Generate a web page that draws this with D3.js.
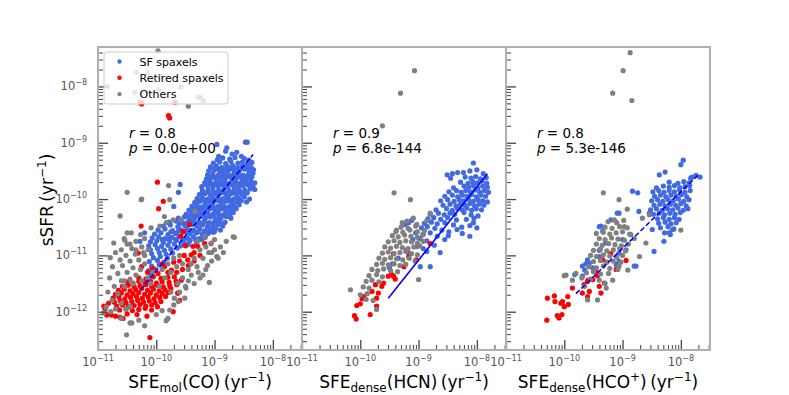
<!DOCTYPE html>
<meta charset="utf-8">
<style>
  body { margin: 0; background: #fff; }
  svg { font-family: "DejaVu Sans", sans-serif; }
  .frame { fill: none; stroke: #b0b0b0; stroke-width: 2; }
  .tick line { stroke: #444; }
  .ticklabel { fill: #555; font-size: 11.5px; }
  .title { fill: #000; font-size: 17px; }
  .stat { fill: #000; font-size: 13.5px; }
  .legend text { font-size: 11px; fill: #000; }
</style>
<svg width="789" height="395"></svg>
<script src="https://d3js.org/d3.v7.min.js"></script>
<script>

// all values are log10 (SFE in yr^-1, sSFR in yr^-1)

// ---- SFE_mol(CO) panel ----
var coSF = [
  [-8.47,-8.99],[-8.44,-8.99],[-8.79,-9.09],[-8.96,-9.03],[-8.93,-9.24],[-8.81,-9.15],[-8.54,-9.24],[-8.62,-9.17],[-8.70,-9.20],
  [-8.95,-9.30],[-8.86,-9.27],[-8.74,-9.29],[-8.65,-9.26],[-8.49,-9.28],[-8.41,-9.31],
  [-9.02,-9.36],[-8.91,-9.34],[-8.81,-9.37],[-8.72,-9.33],[-8.60,-9.36],[-8.52,-9.34],[-8.43,-9.37],[-8.36,-9.35],
  [-9.07,-9.43],[-8.97,-9.41],[-8.88,-9.44],[-8.78,-9.42],[-8.69,-9.40],[-8.61,-9.44],[-8.53,-9.42],[-8.44,-9.40],[-8.37,-9.44],
  [-9.04,-9.45],[-8.95,-9.46],[-8.86,-9.45],[-8.77,-9.46],[-8.68,-9.45],[-8.59,-9.46],[-8.50,-9.45],[-8.41,-9.46],
  [-9.10,-9.50],[-9.00,-9.48],[-8.91,-9.51],[-8.83,-9.49],[-8.74,-9.47],[-8.66,-9.51],[-8.57,-9.49],[-8.48,-9.47],[-8.40,-9.50],[-8.33,-9.48],
  [-9.12,-9.57],[-9.03,-9.55],[-8.94,-9.58],[-8.85,-9.56],[-8.77,-9.54],[-8.68,-9.57],[-8.59,-9.55],[-8.51,-9.58],[-8.42,-9.56],[-8.34,-9.54],
  [-9.10,-9.60],[-9.01,-9.61],[-8.92,-9.60],[-8.83,-9.61],[-8.74,-9.60],[-8.65,-9.61],[-8.56,-9.60],[-8.47,-9.61],[-8.38,-9.60],
  [-9.14,-9.64],[-9.05,-9.62],[-8.97,-9.65],[-8.88,-9.63],[-8.79,-9.61],[-8.70,-9.64],[-8.62,-9.62],[-8.53,-9.65],[-8.45,-9.63],[-8.36,-9.61],
  [-9.17,-9.71],[-9.08,-9.69],[-8.99,-9.72],[-8.90,-9.70],[-8.82,-9.68],[-8.73,-9.71],[-8.64,-9.69],[-8.56,-9.72],[-8.47,-9.70],[-8.38,-9.68],[-8.31,-9.71],
  [-9.15,-9.74],[-9.06,-9.73],[-8.97,-9.74],[-8.88,-9.73],[-8.79,-9.74],[-8.70,-9.73],[-8.61,-9.74],[-8.52,-9.73],[-8.43,-9.74],[-8.36,-9.73],
  [-9.22,-9.78],[-9.12,-9.76],[-9.03,-9.79],[-8.94,-9.77],[-8.86,-9.75],[-8.77,-9.78],[-8.68,-9.76],[-8.59,-9.79],[-8.51,-9.77],[-8.42,-9.75],[-8.34,-9.78],
  [-9.21,-9.85],[-9.11,-9.83],[-9.02,-9.86],[-8.93,-9.84],[-8.84,-9.82],[-8.75,-9.85],[-8.66,-9.83],[-8.57,-9.86],[-8.48,-9.84],[-8.39,-9.82],
  [-9.20,-9.88],[-9.11,-9.87],[-9.02,-9.88],[-8.93,-9.87],[-8.84,-9.88],[-8.75,-9.87],[-8.66,-9.88],[-8.57,-9.87],[-8.48,-9.88],
  [-9.26,-9.92],[-9.16,-9.90],[-9.07,-9.93],[-8.98,-9.91],[-8.89,-9.89],[-8.80,-9.92],[-8.71,-9.90],[-8.62,-9.93],[-8.53,-9.91],[-8.44,-9.89],
  [-9.30,-9.99],[-9.21,-9.97],[-9.12,-10.00],[-9.03,-9.98],[-8.94,-9.96],[-8.85,-9.99],[-8.76,-9.97],[-8.67,-10.00],[-8.58,-9.98],[-8.49,-9.96],
  [-9.28,-10.02],[-9.19,-10.01],[-9.10,-10.02],[-9.01,-10.01],[-8.92,-10.02],[-8.83,-10.01],[-8.74,-10.02],[-8.65,-10.01],[-8.56,-10.02],
  [-9.34,-10.06],[-9.25,-10.04],[-9.16,-10.07],[-9.07,-10.05],[-8.98,-10.03],[-8.89,-10.06],[-8.80,-10.04],[-8.71,-10.07],[-8.62,-10.05],[-8.54,-10.03],
  [-9.39,-10.13],[-9.30,-10.11],[-9.21,-10.14],[-9.12,-10.12],[-9.03,-10.10],[-8.94,-10.13],[-8.85,-10.11],[-8.76,-10.14],[-8.67,-10.12],[-8.58,-10.10],
  [-9.37,-10.16],[-9.28,-10.15],[-9.19,-10.16],[-9.10,-10.15],[-9.01,-10.16],[-8.92,-10.15],[-8.83,-10.16],[-8.74,-10.15],[-8.65,-10.16],
  [-9.44,-10.20],[-9.35,-10.18],[-9.26,-10.21],[-9.17,-10.19],[-9.08,-10.17],[-8.99,-10.20],[-8.90,-10.18],[-8.81,-10.21],[-8.72,-10.19],[-8.63,-10.17],
  [-9.49,-10.27],[-9.39,-10.25],[-9.30,-10.28],[-9.21,-10.26],[-9.12,-10.24],[-9.03,-10.27],[-8.94,-10.25],[-8.85,-10.28],[-8.76,-10.26],[-8.68,-10.24],
  [-9.46,-10.30],[-9.37,-10.29],[-9.28,-10.30],[-9.19,-10.29],[-9.10,-10.30],[-9.01,-10.29],[-8.92,-10.30],[-8.83,-10.29],[-8.74,-10.30],
  [-9.62,-10.34],[-9.52,-10.32],[-9.43,-10.35],[-9.34,-10.33],[-9.25,-10.31],[-9.16,-10.34],[-9.07,-10.32],[-8.98,-10.35],[-8.89,-10.33],[-8.80,-10.31],[-8.72,-10.34],
  [-9.78,-10.41],[-9.66,-10.39],[-9.55,-10.42],[-9.45,-10.40],[-9.36,-10.38],[-9.27,-10.41],[-9.18,-10.39],[-9.09,-10.42],[-9.00,-10.40],[-8.91,-10.38],[-8.82,-10.41],
  [-9.60,-10.44],[-9.48,-10.43],[-9.38,-10.44],[-9.29,-10.43],[-9.20,-10.44],[-9.11,-10.43],[-9.02,-10.44],[-8.93,-10.43],[-8.85,-10.44],
  [-9.88,-10.48],[-9.76,-10.46],[-9.63,-10.49],[-9.51,-10.47],[-9.40,-10.45],[-9.30,-10.48],[-9.21,-10.46],[-9.12,-10.49],[-9.03,-10.47],[-8.94,-10.45],[-8.86,-10.48],
  [-9.97,-10.55],[-9.85,-10.53],[-9.72,-10.56],[-9.59,-10.54],[-9.47,-10.52],[-9.36,-10.55],[-9.26,-10.53],[-9.16,-10.56],[-9.07,-10.54],[-8.98,-10.52],[-8.90,-10.55],
  [-9.75,-10.58],[-9.62,-10.57],[-9.49,-10.58],[-9.38,-10.57],[-9.28,-10.58],[-9.18,-10.57],[-9.09,-10.58],[-9.00,-10.57],
  [-10.03,-10.62],[-9.92,-10.60],[-9.80,-10.63],[-9.67,-10.61],[-9.54,-10.59],[-9.42,-10.62],[-9.31,-10.60],[-9.21,-10.63],[-9.11,-10.61],[-9.02,-10.59],
  [-10.07,-10.69],[-9.96,-10.67],[-9.85,-10.70],[-9.73,-10.68],[-9.61,-10.66],[-9.48,-10.69],[-9.36,-10.67],[-9.26,-10.70],[-9.16,-10.68],
  [-9.90,-10.72],[-9.79,-10.71],[-9.67,-10.72],[-9.55,-10.71],[-9.44,-10.72],[-9.33,-10.71],[-9.22,-10.72],
  [-10.10,-10.76],[-9.99,-10.74],[-9.88,-10.77],[-9.77,-10.75],[-9.65,-10.73],[-9.53,-10.76],[-9.42,-10.74],[-9.31,-10.77],
  [-10.13,-10.83],[-10.02,-10.81],[-9.91,-10.84],[-9.80,-10.82],[-9.69,-10.80],[-9.58,-10.83],[-9.47,-10.81],
  [-10.10,-10.90],[-9.98,-10.88],[-9.86,-10.91],[-9.75,-10.89],[-9.64,-10.87],
  [-10.08,-10.97],[-9.95,-10.95],[-9.83,-10.98],[-9.72,-10.96],
  [-10.05,-11.04],[-9.93,-11.02],[-9.81,-11.05],
  [-10.12,-11.11],[-9.98,-11.09],[-9.87,-11.12],
  [-10.08,-11.19],[-9.95,-11.17],[-10.13,-11.27],[-10.02,-11.25],[-10.09,-11.35],[-10.16,-11.43],[-10.00,-11.52],
  [-9.59,-9.74],[-9.62,-9.88],[-8.31,-9.83],[-8.40,-10.00],[-8.45,-10.05],[-9.70,-10.13],[-9.45,-10.80],[-10.20,-10.60],[-10.28,-10.75]
];
var coRet = [
  [-10.30,-11.40],[-10.18,-11.42],[-10.05,-11.38],[-9.92,-11.41],[-9.80,-11.39],
  [-10.50,-11.47],[-10.40,-11.49],[-10.30,-11.46],[-10.20,-11.48],[-10.10,-11.46],[-10.00,-11.49],[-9.90,-11.47],[-9.78,-11.48],[-9.66,-11.46],
  [-10.58,-11.55],[-10.48,-11.53],[-10.38,-11.56],[-10.28,-11.54],[-10.18,-11.52],[-10.08,-11.55],[-9.98,-11.53],[-9.88,-11.56],[-9.77,-11.54],[-9.65,-11.52],
  [-10.65,-11.62],[-10.55,-11.60],[-10.45,-11.63],[-10.35,-11.61],[-10.25,-11.59],[-10.15,-11.62],[-10.05,-11.60],[-9.95,-11.63],[-9.85,-11.61],[-9.75,-11.59],
  [-10.70,-11.69],[-10.60,-11.67],[-10.50,-11.70],[-10.40,-11.68],[-10.30,-11.66],[-10.20,-11.69],[-10.10,-11.67],[-10.00,-11.70],[-9.90,-11.68],[-9.80,-11.66],[-9.63,-11.67],
  [-10.74,-11.76],[-10.64,-11.74],[-10.54,-11.77],[-10.44,-11.75],[-10.34,-11.73],[-10.24,-11.76],[-10.14,-11.74],[-10.04,-11.77],[-9.94,-11.75],[-9.84,-11.73],
  [-10.72,-11.83],[-10.62,-11.81],[-10.52,-11.84],[-10.42,-11.82],[-10.32,-11.80],[-10.22,-11.83],[-10.12,-11.81],[-10.02,-11.84],[-9.92,-11.82],
  [-10.68,-11.90],[-10.58,-11.88],[-10.48,-11.91],[-10.38,-11.89],[-10.28,-11.87],[-10.18,-11.90],[-10.08,-11.88],[-9.98,-11.91],
  [-10.63,-11.97],[-10.52,-11.95],[-10.41,-11.98],[-10.30,-11.96],[-10.19,-11.94],[-10.08,-11.97],
  [-10.85,-12.06],[-10.77,-12.06],[-10.70,-12.08],[-10.62,-12.10],[-10.57,-12.12],[-10.33,-12.05],[-10.16,-12.08],[-10.50,-12.04],[-10.90,-11.90],[-10.82,-11.85],[-10.88,-11.95],
  [-10.11,-12.46],[-9.71,-12.00],[-9.60,-11.80],
  [-10.31,-10.96],[-10.06,-11.23],[-9.97,-11.32],[-9.86,-11.20],[-9.74,-11.26],[-9.69,-11.38],[-9.57,-11.44],[-9.46,-11.08],[-9.40,-10.99],[-9.29,-10.84],
  [-9.17,-10.79],[-9.06,-10.79],[-9.63,-11.67],[-9.60,-11.10],[-9.52,-11.00],[-9.55,-11.25],[-9.45,-11.18],[-9.35,-10.95],[-9.65,-11.30],[-9.80,-11.30],
  [-9.90,-11.15],[-9.70,-11.12],[-10.15,-11.30],[-10.25,-11.20],[-9.35,-11.10],[-9.25,-11.00],
  [-9.98,-9.70],[-9.88,-10.04],[-9.96,-10.17],[-10.26,-10.48],[-9.54,-10.57],[-9.43,-10.45],[-9.58,-10.66],[-9.50,-10.83],[-9.37,-10.84],
  [-9.79,-8.52],[-9.77,-8.56],[-10.28,-8.28],[-10.25,-8.31],[-9.68,-8.28]
];
var coOth = [
  [-9.97,-7.37],[-10.34,-7.75],[-10.15,-7.76],[-9.93,-7.83],[-10.84,-8.00],[-9.58,-8.01],[-9.96,-8.06],[-10.37,-8.11],[-9.28,-8.19],[-9.24,-8.20],[-9.19,-8.25],[-9.45,-8.35],
  [-10.50,-9.88],[-10.25,-10.00],[-9.79,-9.76],[-10.26,-10.01],[-9.77,-10.01],[-10.62,-10.30],[-9.34,-10.22],
  [-10.43,-10.60],[-10.27,-10.63],[-10.09,-10.51],[-9.94,-10.48],[-9.86,-10.31],[-9.83,-10.42],[-9.71,-10.37],[-9.57,-10.37],[-10.20,-10.70],[-10.35,-10.75],
  [-10.50,-10.80],[-10.60,-10.90],[-10.42,-10.88],[-10.25,-10.85],[-10.55,-10.70],[-10.70,-10.95],[-10.52,-11.00],[-10.36,-10.98],[-10.22,-10.95],[-10.62,-11.08],
  [-10.45,-11.10],[-10.30,-11.08],[-10.20,-11.15],[-10.75,-11.20],[-10.58,-11.18],[-10.40,-11.22],[-10.27,-11.25],[-10.66,-11.32],[-10.50,-11.30],[-10.35,-11.35],
  [-10.80,-11.40],[-10.60,-11.45],[-10.45,-11.42],[-10.72,-11.55],[-10.55,-11.55],[-10.83,-11.65],[-10.66,-11.68],[-10.76,-11.80],[-10.60,-11.85],[-10.86,-11.92],
  [-10.70,-11.95],[-10.90,-12.02],[-10.78,-12.00],[-10.52,-11.95],[-10.45,-11.90],[-10.79,-11.04],[-10.73,-10.78],[-10.50,-10.60],
  [-10.05,-11.30],[-9.90,-11.25],[-9.80,-11.15],[-9.70,-11.05],[-9.60,-11.00],[-9.85,-11.40],[-9.75,-11.30],[-10.15,-11.40],
  [-8.66,-10.68],[-9.06,-10.78],[-9.00,-10.72],[-9.17,-10.66],[-8.90,-10.85],[-8.80,-10.75],[-9.10,-10.95],[-9.25,-10.90],[-9.20,-11.05],[-9.05,-11.10],
  [-8.96,-11.02],[-9.35,-11.05],[-9.30,-11.20],[-9.15,-11.25],[-9.45,-11.25],[-9.40,-11.35],[-9.09,-11.48],[-9.25,-11.40],[-9.55,-11.40],[-9.50,-11.55],
  [-9.63,-11.50],[-9.49,-11.58],[-9.51,-11.76],[-9.69,-11.76],[-9.60,-11.65],[-9.75,-11.65],[-9.35,-11.50],[-9.20,-11.35],[-9.40,-11.15],[-9.55,-11.15],
  [-9.65,-11.20],[-9.45,-11.45],[-9.00,-10.90],[-8.85,-10.95],[-9.12,-11.18],[-9.28,-11.30],[-8.68,-10.67],[-8.96,-11.02],
  [-9.80,-12.12],[-9.83,-12.16],[-9.77,-11.97],[-10.51,-12.41],[-9.90,-11.98],[-10.00,-12.05],[-9.70,-11.88],[-9.62,-11.82],[-10.30,-12.15],[-10.42,-12.20],
  [-10.60,-12.12],[-10.20,-12.25],[-10.45,-12.20],
  [-10.40,-11.50],[-10.25,-11.45],[-10.10,-11.50],[-9.95,-11.55],[-10.55,-11.45],
  [-10.54,-10.73],[-10.45,-10.80],[-10.35,-10.90],[-10.14,-10.90],[-10.20,-11.00],
  [-9.29,-10.75],[-9.15,-10.85],[-9.05,-10.95],[-8.94,-11.05]
];
var coFit = [[-10.27,-11.61],[-8.34,-9.21]];

// ---- SFE_dense(HCN) panel ----
var hcnSF = [
  [-8.06,-9.36],[-8.51,-9.57],[-8.42,-9.55],[-8.33,-9.53],[-8.23,-9.53],[-8.12,-9.50],[-8.00,-9.48],[-7.89,-9.55],[-7.84,-9.62],
  [-8.45,-9.63],[-8.20,-9.61],[-8.10,-9.63],[-8.02,-9.60],[-7.94,-9.64],
  [-8.28,-9.70],[-8.15,-9.72],[-8.07,-9.69],[-7.99,-9.71],[-7.91,-9.68],[-7.83,-9.72],
  [-8.40,-9.80],[-8.22,-9.77],[-8.14,-9.79],[-8.06,-9.76],[-7.98,-9.80],[-7.90,-9.77],[-7.82,-9.79],
  [-8.48,-9.87],[-8.35,-9.85],[-8.27,-9.88],[-8.19,-9.85],[-8.11,-9.87],[-8.03,-9.84],[-7.95,-9.88],[-7.87,-9.85],[-7.80,-9.88],
  [-8.55,-9.95],[-8.42,-9.93],[-8.33,-9.96],[-8.25,-9.93],[-8.17,-9.95],[-8.09,-9.92],[-8.01,-9.96],[-7.93,-9.93],[-7.85,-9.95],
  [-8.62,-10.03],[-8.50,-10.01],[-8.39,-10.04],[-8.30,-10.01],[-8.22,-10.03],[-8.14,-10.00],[-8.06,-10.04],[-7.98,-10.01],[-7.90,-10.03],[-7.82,-10.05],
  [-8.58,-10.11],[-8.46,-10.09],[-8.36,-10.12],[-8.28,-10.09],[-8.20,-10.11],[-8.12,-10.08],[-8.04,-10.12],[-7.96,-10.09],[-7.88,-10.11],
  [-8.70,-10.19],[-8.52,-10.17],[-8.42,-10.20],[-8.33,-10.17],[-8.25,-10.19],[-8.17,-10.16],[-8.09,-10.20],[-8.01,-10.17],[-7.92,-10.19],
  [-8.80,-10.27],[-8.66,-10.25],[-8.56,-10.28],[-8.46,-10.25],[-8.38,-10.27],[-8.22,-10.24],[-8.10,-10.28],[-7.98,-10.30],
  [-8.84,-10.35],[-8.74,-10.33],[-8.62,-10.36],[-8.50,-10.33],[-8.35,-10.37],[-8.18,-10.36],[-8.05,-10.34],
  [-8.90,-10.43],[-8.78,-10.41],[-8.68,-10.44],[-8.55,-10.42],[-8.40,-10.46],[-8.26,-10.50],[-8.12,-10.47],
  [-8.95,-10.51],[-8.85,-10.49],[-8.72,-10.52],[-8.60,-10.55],[-8.48,-10.58],
  [-9.05,-10.60],[-8.92,-10.62],[-8.80,-10.60],[-8.68,-10.66],
  [-9.10,-10.72],[-8.98,-10.70],[-8.86,-10.74],
  [-8.63,-10.95],[-8.80,-11.20],[-8.97,-11.20],[-9.50,-11.22],[-9.17,-10.96],[-8.86,-10.93],[-9.12,-10.38],[-9.17,-10.42],[-9.23,-10.45],
  [-8.25,-10.61],[-8.12,-10.66],[-8.00,-10.51],[-8.06,-10.42],[-8.34,-10.54],[-8.49,-10.65],[-8.55,-10.72],[-8.73,-10.82],[-8.92,-10.88],
  [-9.02,-10.84],[-9.35,-11.05],[-9.45,-11.15]
];
var hcnRet = [
  [-9.20,-10.90],[-9.17,-11.02],[-9.04,-11.08],[-9.25,-11.20],[-8.80,-10.79],[-9.43,-10.97],[-9.46,-11.34],[-9.43,-11.37],[-9.60,-11.49],[-9.74,-11.52],
  [-9.63,-11.55],[-9.80,-11.64],[-9.69,-11.67],[-9.94,-11.73],[-9.97,-11.77],[-10.06,-11.89],[-10.00,-11.86],[-9.72,-11.76],[-9.72,-11.90],[-9.83,-12.05],
  [-10.10,-12.07],[-10.07,-12.13],[-9.52,-11.37],[-9.40,-11.42]
];
var hcnOth = [
  [-9.07,-7.72],[-9.31,-8.12],[-9.62,-8.70],
  [-9.42,-9.89],[-9.14,-10.01],[-8.80,-10.25],[-9.39,-10.58],[-9.28,-10.42],[-9.20,-10.39],[-9.09,-10.34],[-9.03,-10.45],[-8.86,-10.39],
  [-9.30,-10.50],[-9.18,-10.52],[-9.05,-10.48],
  [-9.38,-10.55],[-9.27,-10.59],[-9.15,-10.55],[-9.02,-10.58],[-8.90,-10.56],
  [-9.45,-10.65],[-9.35,-10.67],[-9.24,-10.64],[-9.13,-10.66],[-9.02,-10.68],[-8.93,-10.64],
  [-9.52,-10.76],[-9.42,-10.74],[-9.32,-10.77],[-9.22,-10.74],[-9.12,-10.76],[-9.02,-10.78],[-8.92,-10.75],
  [-9.58,-10.85],[-9.48,-10.87],[-9.38,-10.84],[-9.28,-10.86],[-9.18,-10.88],[-9.08,-10.85],[-8.98,-10.83],
  [-9.62,-10.96],[-9.52,-10.94],[-9.42,-10.97],[-9.32,-10.95],[-9.22,-10.93],[-9.12,-10.97],[-9.02,-10.99],
  [-9.68,-11.05],[-9.58,-11.07],[-9.48,-11.04],[-9.38,-11.06],[-9.27,-11.08],[-9.16,-11.05],[-9.06,-11.10],
  [-9.72,-11.16],[-9.62,-11.14],[-9.52,-11.17],[-9.42,-11.15],[-9.32,-11.18],[-9.22,-11.16],
  [-9.80,-11.25],[-9.70,-11.27],[-9.60,-11.24],[-9.48,-11.27],[-9.36,-11.29],
  [-9.85,-11.36],[-9.72,-11.34],[-9.62,-11.38],[-9.00,-11.43],
  [-9.90,-11.46],[-9.80,-11.44],[-9.68,-11.47],
  [-9.95,-11.56],[-9.85,-11.58],[-10.17,-11.61],
  [-9.88,-11.68],[-9.78,-11.80],[-9.72,-11.96],[-9.90,-11.78],[-10.00,-11.70]
];
var hcnFit = [[-9.52,-11.76],[-7.82,-9.55]];

// ---- SFE_dense(HCO+) panel ----
var hcoSF = [
  [-7.96,-9.31],[-8.00,-9.39],[-8.37,-9.57],[-8.27,-9.52],[-7.83,-9.63],[-7.74,-9.58],[-7.67,-9.61],[-7.81,-9.61],
  [-8.20,-9.70],[-8.05,-9.72],[-7.95,-9.69],[-7.86,-9.71],
  [-8.42,-9.80],[-8.30,-9.77],[-8.20,-9.79],[-8.11,-9.76],[-8.02,-9.80],[-7.93,-9.78],[-7.85,-9.76],
  [-8.48,-9.87],[-8.38,-9.85],[-8.29,-9.88],[-8.20,-9.85],[-8.11,-9.87],[-8.02,-9.84],[-7.93,-9.88],[-7.84,-9.85],
  [-8.45,-9.95],[-8.35,-9.93],[-8.26,-9.96],[-8.17,-9.93],[-8.08,-9.95],[-7.99,-9.92],[-7.90,-9.96],
  [-8.50,-10.03],[-8.40,-10.01],[-8.31,-10.04],[-8.22,-10.01],[-8.13,-10.03],[-8.04,-10.00],[-7.95,-10.04],[-7.86,-10.01],
  [-8.46,-10.11],[-8.36,-10.09],[-8.27,-10.12],[-8.18,-10.09],[-8.09,-10.11],[-8.00,-10.08],[-7.91,-10.12],
  [-8.52,-10.19],[-8.42,-10.17],[-8.32,-10.20],[-8.23,-10.17],[-8.14,-10.19],[-8.05,-10.16],[-7.96,-10.20],[-7.88,-10.17],
  [-8.47,-10.27],[-8.37,-10.25],[-8.28,-10.28],[-8.19,-10.25],[-8.10,-10.27],[-8.01,-10.24],
  [-8.40,-10.35],[-8.30,-10.33],[-8.20,-10.36],[-8.11,-10.33],[-8.03,-10.36],
  [-8.38,-10.43],[-8.27,-10.41],[-8.17,-10.44],[-8.08,-10.42],
  [-8.35,-10.51],[-8.22,-10.49],[-8.12,-10.53],
  [-8.28,-10.60],[-8.18,-10.63],[-8.29,-10.75],[-8.46,-10.93],
  [-8.72,-10.22],[-8.74,-9.89],[-8.83,-9.86],[-8.54,-10.25],[-8.49,-10.54],[-8.20,-10.60],[-8.14,-10.54],[-9.09,-10.25],[-9.20,-10.37],
  [-9.37,-10.48],[-9.34,-10.57],[-9.60,-11.08],[-9.57,-11.14],[-9.69,-11.19],[-9.51,-11.22],[-9.82,-11.34],[-9.69,-11.37],[-9.11,-11.16],
  [-9.06,-11.10],[-8.77,-11.19],[-8.94,-10.90],[-9.06,-10.96],[-9.29,-10.78],[-9.40,-11.02],[-9.00,-10.72],[-8.86,-10.63],
  [-9.40,-10.49],[-9.06,-10.25],[-9.63,-11.15],[-9.40,-10.91],[-8.80,-11.19],[-9.65,-11.26]
];
var hcoRet = [
  [-9.20,-10.97],[-9.34,-11.08],[-9.11,-11.25],[-9.43,-11.36],[-9.51,-11.43],[-9.60,-11.46],[-9.66,-11.52],[-9.40,-11.55],[-9.31,-11.49],[-9.37,-11.67],
  [-9.57,-11.64],[-9.60,-11.73],[-9.69,-11.67],[-9.86,-11.58],[-9.94,-11.73],[-10.06,-11.85],[-10.03,-11.82],[-10.17,-11.72],[-10.16,-11.82],[-10.29,-11.76],
  [-9.93,-11.87],[-10.00,-11.91],[-10.04,-12.05],[-10.09,-12.11],[-10.30,-12.15],[-10.12,-12.07],[-8.94,-11.09],[-9.46,-11.29],[-9.59,-11.44]
];
var hcoOth = [
  [-8.87,-7.40],[-8.99,-7.72],[-9.17,-8.12],[-8.84,-8.25],
  [-9.33,-9.89],[-9.06,-10.01],[-8.92,-10.18],[-8.54,-10.28],[-8.60,-10.78],[-8.00,-10.55],[-8.71,-11.02],[-9.14,-10.37],[-8.97,-10.49],[-8.66,-10.34],
  [-9.25,-10.40],[-9.10,-10.42],[-8.98,-10.38],
  [-9.30,-10.50],[-9.18,-10.52],[-9.05,-10.49],[-8.92,-10.51],
  [-9.45,-10.61],[-9.33,-10.59],[-9.22,-10.62],[-9.11,-10.60],[-9.00,-10.58],[-8.88,-10.62],
  [-9.40,-10.70],[-9.30,-10.72],[-9.19,-10.69],[-9.08,-10.71],[-8.97,-10.73],[-8.80,-10.70],
  [-9.45,-10.80],[-9.35,-10.82],[-9.24,-10.79],[-9.13,-10.81],[-9.02,-10.83],[-8.90,-10.80],
  [-9.50,-10.91],[-9.38,-10.89],[-9.27,-10.92],[-9.16,-10.90],[-9.05,-10.88],[-8.95,-10.92],
  [-9.55,-11.00],[-9.45,-11.02],[-9.33,-10.99],[-9.22,-11.01],[-9.10,-11.03],[-9.00,-11.00],
  [-9.50,-11.11],[-9.38,-11.09],[-9.27,-11.12],[-9.16,-11.10],[-9.03,-11.12],
  [-9.58,-11.20],[-9.45,-11.22],[-9.33,-11.19],[-9.22,-11.23],[-9.08,-11.25],
  [-9.62,-11.31],[-9.50,-11.29],[-9.38,-11.33],[-9.24,-11.32],
  [-9.70,-11.40],[-9.55,-11.42],[-9.40,-11.44],[-10.00,-11.36],[-9.80,-11.32],[-9.97,-11.35],[-9.86,-11.44],
  [-9.60,-11.79],[-9.43,-11.79],[-9.28,-11.58],[-9.30,-11.50],[-9.65,-11.55],[-9.17,-11.44],[-8.91,-11.26],[-9.06,-11.19]
];
var hcoFit = [[-9.80,-11.68],[-7.68,-9.55]];

var statR = ["0.8", "0.9", "0.8"];
var statP = ["0.0e+00", "6.8e-144", "5.3e-146"];
var xMajor = [-11, -10, -9, -8];
var yMajor = [-12, -11, -10, -9, -8];
var legendNames = ["SF spaxels", "Retired spaxels", "Others"];
var colors = ["royalblue", "red", "gray"];

var panels = [
  { sf: coSF, ret: coRet, oth: coOth, fit: coFit, dash: "5,2.5", label: ["SFE", "mol", "(CO)"] },
  { sf: hcnSF, ret: hcnRet, oth: hcnOth, fit: hcnFit, dash: null, label: ["SFE", "dense", "(HCN)"] },
  { sf: hcoSF, ret: hcoRet, oth: hcoOth, fit: hcoFit, dash: "5,2.5", label: ["SFE", "dense", "(HCO", "+", ")"] }
];

var svg = d3.select("svg"),
    plotTop = 47,
    plotH = 303,
    panelW = 204,
    lefts = [98, 302, 506];

var x = d3.scaleLog().domain([1e-11, Math.pow(10, -7.5)]).range([0, panelW]);
var y = d3.scaleLog().domain([Math.pow(10, -12.68), Math.pow(10, -7.3)]).range([plotH, 0]);

function minorTicks(lo, hi, scale) {
  var out = [], d = scale.domain();
  for (var e = lo; e <= hi; e++) {
    for (var k = 2; k <= 9; k++) {
      var v = k * Math.pow(10, e);
      if (v >= d[0] && v <= d[1]) out.push(v);
    }
  }
  return out;
}

function powLabel(sel, e) {
  sel.append("tspan").text("10");
  sel.append("tspan").attr("dy", -5).attr("font-size", "8px").text("\u2212" + Math.abs(e));
}

panels.forEach(function (p, i) {
  var g = svg.append("g").attr("transform", "translate(" + lefts[i] + "," + plotTop + ")");

  g.append("clipPath").attr("id", "clip" + i)
    .append("rect").attr("width", panelW).attr("height", plotH);

  var pts = g.append("g").attr("clip-path", "url(#clip" + i + ")");
  [p.sf, p.ret, p.oth].forEach(function (arr, j) {
    pts.append("g").selectAll("circle")
      .data(arr)
      .enter().append("circle")
      .attr("cx", function (d) { return x(Math.pow(10, d[0])); })
      .attr("cy", function (d) { return y(Math.pow(10, d[1])); })
      .attr("r", 2.6)
      .style("fill", colors[j]);
  });

  pts.append("line")
    .attr("x1", x(Math.pow(10, p.fit[0][0]))).attr("y1", y(Math.pow(10, p.fit[0][1])))
    .attr("x2", x(Math.pow(10, p.fit[1][0]))).attr("y2", y(Math.pow(10, p.fit[1][1])))
    .style("stroke", "blue").style("stroke-width", 1.6)
    .style("stroke-dasharray", p.dash);

  // ticks, pointing inward
  g.append("g").attr("transform", "translate(0," + plotH + ")")
    .call(d3.axisBottom(x).tickValues(xMajor.map(function (e) { return Math.pow(10, e); })).tickSize(-10).tickFormat(""))
    .call(function (a) { a.select(".domain").remove(); a.selectAll("line").style("stroke-width", 1.3); });
  g.append("g").attr("transform", "translate(0," + plotH + ")")
    .call(d3.axisBottom(x).tickValues(minorTicks(-11, -8, x)).tickSize(-5).tickFormat(""))
    .call(function (a) { a.select(".domain").remove(); });
  g.append("g")
    .call(d3.axisLeft(y).tickValues(yMajor.map(function (e) { return Math.pow(10, e); })).tickSize(-10).tickFormat(""))
    .call(function (a) { a.select(".domain").remove(); a.selectAll("line").style("stroke-width", 1.3); });
  g.append("g")
    .call(d3.axisLeft(y).tickValues(minorTicks(-13, -8, y)).tickSize(-5).tickFormat(""))
    .call(function (a) { a.select(".domain").remove(); });

  g.append("rect").attr("class", "frame").attr("width", panelW).attr("height", plotH);

  // x tick labels
  xMajor.forEach(function (e) {
    var t = g.append("text").attr("class", "ticklabel")
      .attr("x", x(Math.pow(10, e))).attr("y", plotH + 16)
      .attr("text-anchor", "middle");
    powLabel(t, e);
  });
  if (i === 0) {
    yMajor.forEach(function (e) {
      var t = g.append("text").attr("class", "ticklabel")
        .attr("x", -11).attr("y", y(Math.pow(10, e)) + 4)
        .attr("text-anchor", "end");
      powLabel(t, e);
    });
  }

  // r and p
  var r = g.append("text").attr("class", "stat").attr("x", 31).attr("y", 91);
  r.append("tspan").style("font-style", "italic").text("r");
  r.append("tspan").text(" = " + statR[i]);
  var pp = g.append("text").attr("class", "stat").attr("x", 31).attr("y", 106);
  pp.append("tspan").style("font-style", "italic").text("p");
  pp.append("tspan").text(" = " + statP[i]);

  // x title
  var xt = g.append("text").attr("class", "title")
    .attr("x", panelW / 2).attr("y", plotH + 38).attr("text-anchor", "middle");
  xt.append("tspan").text(p.label[0]);
  xt.append("tspan").attr("font-size", "12px").attr("dy", 4).text(p.label[1]);
  if (p.label.length === 3) {
    xt.append("tspan").attr("dy", -4).text(p.label[2]);
  } else {
    xt.append("tspan").attr("dy", -4).text(p.label[2]);
    xt.append("tspan").attr("font-size", "12px").attr("dy", -7).text(p.label[3]);
    xt.append("tspan").attr("dy", 7).text(p.label[4]);
  }
  xt.append("tspan").text("\u2009(yr");
  xt.append("tspan").attr("font-size", "12px").attr("dy", -7).text("\u22121");
  xt.append("tspan").attr("dy", 7).text(")");

  if (i === 0) {
    var lg = g.append("g").attr("class", "legend").attr("transform", "translate(6,5)");
    lg.append("rect").attr("width", 124).attr("height", 52).attr("rx", 3)
      .style("fill", "#fff").style("fill-opacity", 0.8).style("stroke", "#ccc");
    legendNames.forEach(function (name, j) {
      lg.append("circle").attr("cx", 15.5).attr("cy", 9.5 + j * 16.3).attr("r", 2.2).style("fill", colors[j]);
      lg.append("text").attr("x", 35.5).attr("y", 13.5 + j * 16.3).text(name);
    });
  }
});

// y title
var yt = svg.append("text").attr("class", "title")
  .attr("transform", "translate(53,200) rotate(-90)")
  .attr("text-anchor", "middle");
yt.append("tspan").text("sSFR\u2009(yr");
yt.append("tspan").attr("font-size", "12px").attr("dy", -7).text("\u22121");
yt.append("tspan").attr("dy", 7).text(")");

</script>
